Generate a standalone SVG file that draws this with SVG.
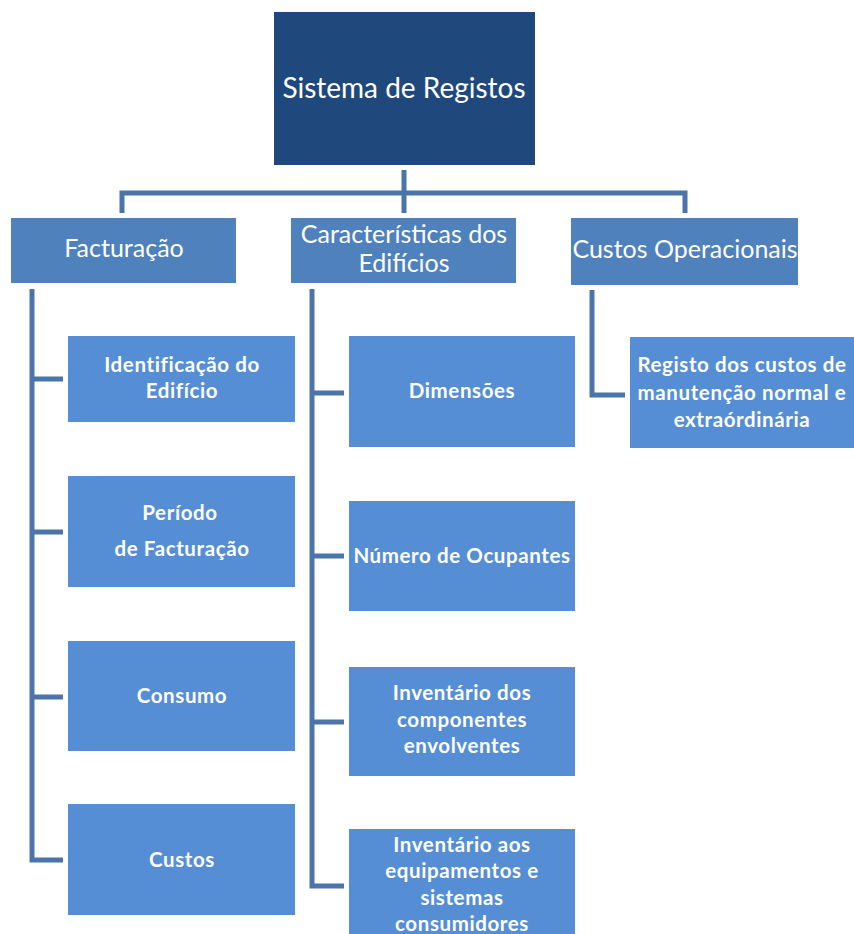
<svg xmlns="http://www.w3.org/2000/svg" width="854" height="934" viewBox="0 0 854 934">
<style>
.root{fill:#1f497d}
.l1{fill:#4f81bd}
.l2{fill:#558ed5}
.t{font-family:Lato,"Open Sans","Liberation Sans",sans-serif;fill:#ffffff;text-anchor:middle}
.tr{font-size:28px}
.t1{font-size:25px}
.t2{font-size:20.5px;font-weight:bold;letter-spacing:0.6px}
.c{fill:none;stroke:#4a74aa;stroke-width:5;stroke-linejoin:miter}
</style>
<rect width="854" height="934" fill="#ffffff"/>
<g id="connectors">
<path class="c" d="M404 170V213M122 213V193H685V213"/>
<path class="c" d="M32 289V860H63M32 379H63M32 532H63M32 697H63"/>
<path class="c" d="M312 289V886H344M312 393H344M312 556H344M312 722H344"/>
<path class="c" d="M592 290V395H625"/>
</g>
<g id="n-root"><rect class="root" x="274" y="12" width="261" height="153"/><text class="t tr" x="404" y="98">Sistema de Registos</text></g>
<g id="n-facturacao"><rect class="l1" x="11" y="218" width="225" height="65"/><text class="t t1" x="124" y="257">Facturação</text></g>
<g id="n-caracteristicas"><rect class="l1" x="291" y="218" width="225" height="65"/><text class="t t1" x="404" y="243">Características dos</text><text class="t t1" x="404" y="272">Edifícios</text></g>
<g id="n-custos-op"><rect class="l1" x="571" y="218" width="227" height="67"/><text class="t t1" x="685" y="258">Custos Operacionais</text></g>
<g id="n-identificacao"><rect class="l2" x="68" y="336" width="227" height="86"/><text class="t t2" x="182" y="372">Identificação do</text><text class="t t2" x="182" y="398">Edifício</text></g>
<g id="n-periodo"><rect class="l2" x="68" y="476" width="227" height="111"/><text class="t t2" x="180" y="520">Período</text><text class="t t2" x="182" y="556">de Facturação</text></g>
<g id="n-consumo"><rect class="l2" x="68" y="641" width="227" height="110"/><text class="t t2" x="182" y="703">Consumo</text></g>
<g id="n-custos"><rect class="l2" x="68" y="804" width="227" height="111"/><text class="t t2" x="182" y="867">Custos</text></g>
<g id="n-dimensoes"><rect class="l2" x="349" y="336" width="226" height="111"/><text class="t t2" x="462" y="398">Dimensões</text></g>
<g id="n-ocupantes"><rect class="l2" x="349" y="501" width="226" height="110"/><text class="t t2" x="462" y="563">Número de Ocupantes</text></g>
<g id="n-inv-componentes"><rect class="l2" x="349" y="667" width="226" height="109"/><text class="t t2" x="462" y="700">Inventário dos</text><text class="t t2" x="462" y="727">componentes</text><text class="t t2" x="462" y="753">envolventes</text></g>
<g id="n-inv-equipamentos"><rect class="l2" x="349" y="829" width="226" height="110"/><text class="t t2" x="462" y="852">Inventário aos</text><text class="t t2" x="462" y="878">equipamentos e</text><text class="t t2" x="462" y="905">sistemas</text><text class="t t2" x="462" y="931">consumidores</text></g>
<g id="n-registo"><rect class="l2" x="630" y="337" width="230" height="111"/><text class="t t2" x="742" y="372">Registo dos custos de</text><text class="t t2" x="742" y="400">manutenção normal e</text><text class="t t2" x="742" y="427">extraórdinária</text></g>
</svg>
